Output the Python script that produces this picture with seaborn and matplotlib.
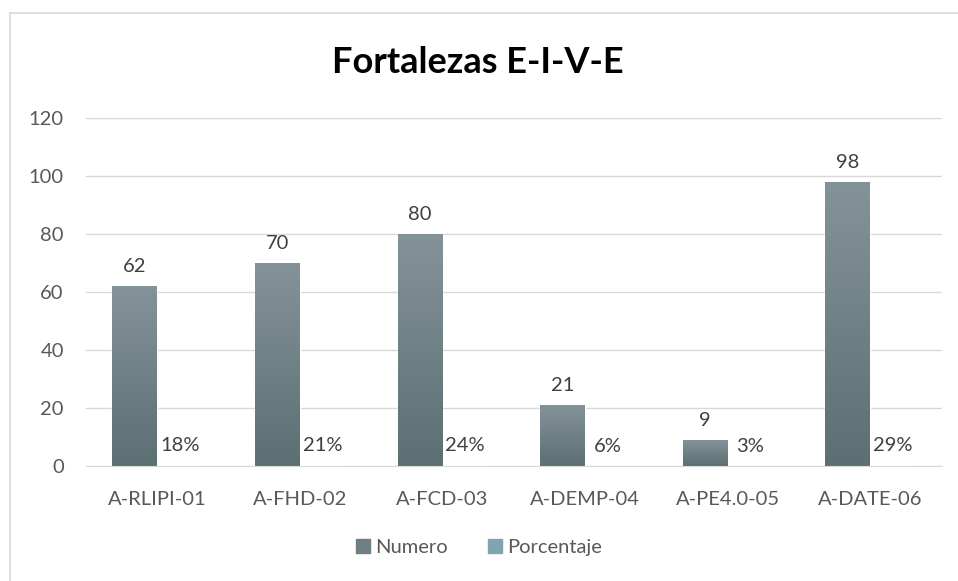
import numpy as np
import pandas as pd
import matplotlib
matplotlib.use("Agg")
import matplotlib.pyplot as plt
from matplotlib.lines import Line2D
import seaborn as sns

# datos
categorias = ['A-RLIPI-01', 'A-FHD-02', 'A-FCD-03', 'A-DEMP-04', 'A-PE4.0-05', 'A-DATE-06']
numero = [62, 70, 80, 21, 9, 98]
porcentaje = [0.18, 0.21, 0.24, 0.06, 0.03, 0.29]
series = ['Numero', 'Porcentaje']
yticks = [0, 20, 40, 60, 80, 100, 120]

df = pd.DataFrame({
    'categoria': categorias * 2,
    'serie': [series[0]] * len(categorias) + [series[1]] * len(categorias),
    'valor': numero + porcentaje,
})

sns.set_style("white")
plt.rcParams['font.family'] = ['Lato', 'DejaVu Sans']

fig = plt.figure(figsize=(9.58, 5.81), dpi=100)
ax = fig.add_axes([0.0898, 0.198, 0.893, 0.599])

colores = {'Numero': '#6e7f83', 'Porcentaje': '#7fa6b0'}
sns.barplot(data=df, x='categoria', y='valor', hue='serie', palette=colores,
            width=0.63, ax=ax, legend=False, saturation=1)

# degradado en las barras de Numero
grad = np.linspace(0, 1, 256).reshape(-1, 1)
cmap = matplotlib.colors.LinearSegmentedColormap.from_list('g', ['#5c6f73', '#84939a'])
for bar in ax.containers[0]:
    x0, y0 = bar.get_x(), bar.get_y()
    w, h = bar.get_width(), bar.get_height()
    im = ax.imshow(grad, cmap=cmap, aspect='auto', origin='lower',
                   extent=[x0, x0 + w, y0, y0 + h], zorder=bar.get_zorder() + 0.1)
    im.set_clip_path(bar)

# etiquetas
ax.bar_label(ax.containers[0], labels=[str(v) for v in numero], padding=8,
             fontsize=14.5, color='#404040')
ax.bar_label(ax.containers[1], labels=['%d%%' % round(v * 100) for v in porcentaje],
             padding=8, fontsize=14.5, color='#404040')

ax.set_xlim(-0.5, len(categorias) - 0.5)
ax.set_ylim(0, 120)
ax.set_yticks(yticks)
ax.grid(axis='y', color='#d9d9d9', linewidth=1)
ax.set_axisbelow(True)
for s in ['top', 'right', 'left']:
    ax.spines[s].set_visible(False)
ax.spines['bottom'].set_color('#d9d9d9')
ax.tick_params(axis='both', length=0, labelsize=14.5, labelcolor='#595959')
ax.tick_params(axis='x', pad=18)
ax.tick_params(axis='y', pad=16)
ax.set_xlabel('')
ax.set_ylabel('')

fig.text(0.499, 0.893, 'Fortalezas E-I-V-E', ha='center', va='center',
         fontsize=26, fontweight='bold', color='black')

handles = [Line2D([0], [0], marker='s', linestyle='', markersize=9.5,
                  markerfacecolor=colores[s], markeredgecolor=colores[s]) for s in series]
fig.legend(handles, series, loc='center', bbox_to_anchor=(0.5, 0.057), ncol=2,
           frameon=False, fontsize=14.5, labelcolor='#595959', handlelength=0.7,
           handletextpad=0.25, columnspacing=2.0)

# borde del grafico
fig.add_artist(Line2D([10 / 958, 10 / 958], [0, 1 - 13 / 581], transform=fig.transFigure,
                      color='#d9d9d9', linewidth=1.2))
fig.add_artist(Line2D([10 / 958, 1], [1 - 13 / 581, 1 - 13 / 581], transform=fig.transFigure,
                      color='#d9d9d9', linewidth=1.2))

fig.savefig('out.png', dpi=100)
